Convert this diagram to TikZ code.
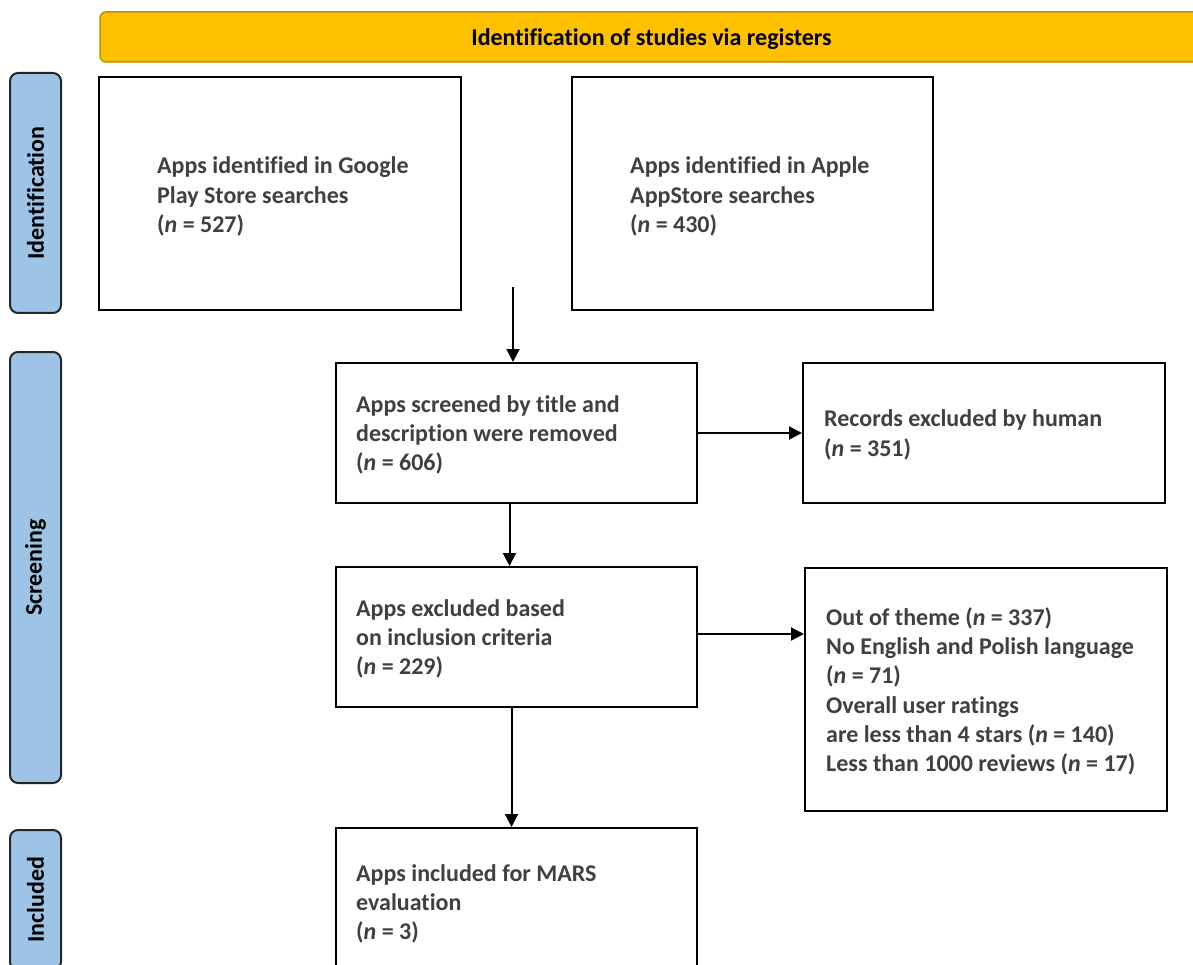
\documentclass[tikz,border=0pt]{standalone}
\usepackage{fontspec}
\setmainfont{Carlito}[Ligatures=NoCommon]
\usetikzlibrary{arrows.meta}
\definecolor{bannerfill}{HTML}{FFC000}
\definecolor{bannerdraw}{HTML}{BF9000}
\definecolor{sidefill}{HTML}{9DC3E6}
\definecolor{txtgray}{HTML}{404040}
\tikzset{
  boxnode/.style={draw=black, line width=2pt, fill=white, inner sep=0pt},
  txt/.style={anchor=west, align=left, inner sep=0pt, text=txtgray,
    font=\fontsize{24}{29.3}\selectfont\bfseries},
  sidebar/.style={draw=black!85, line width=2pt, fill=sidefill, rounded corners=8pt,
    rotate=90, inner sep=0pt, minimum height=51pt,
    font=\fontsize{24}{28}\selectfont\bfseries, text=black},
  banner/.style={draw=bannerdraw, line width=1.5pt, fill=bannerfill, rounded corners=6pt,
    inner sep=0pt, minimum width=1103pt, minimum height=50pt},
  bannertxt/.style={inner sep=0pt, font=\fontsize{24}{28}\selectfont\bfseries, text=black},
  flow/.style={line width=2pt, draw=black, -{Triangle[length=13pt,width=13pt]}},
}
\begin{document}
\begin{tikzpicture}[x=1pt,y=-1pt]
\useasboundingbox (0,0) rectangle (1193,965);
\clip (0,0) rectangle (1193,965);

% banner
\node[banner] (ban) at (651.5,37) {};
\node[bannertxt] (banT) at ([yshift=-2pt]ban.center) {Identification of studies via registers};

% side bars
\node[sidebar, minimum width=240pt] (sideI) at (35.5,193) {Identification};
\node[sidebar, minimum width=431pt] (sideS) at (35.5,567.5) {Screening};
\node[sidebar, minimum width=140pt] (sideN) at (35.5,900) {Included};

% boxes
\node[boxnode, minimum width=362pt, minimum height=233pt] (google) at (280,193.5) {};
\node[txt] (googleT) at ([xshift=59pt,yshift=-3pt]google.west) {Apps identified in Google\\Play Store searches\\(\textit{n} = 527)};

\node[boxnode, minimum width=361pt, minimum height=233pt] (apple) at (752.5,193.5) {};
\node[txt] (appleT) at ([xshift=59pt,yshift=-3pt]apple.west) {Apps identified in Apple\\AppStore searches\\(\textit{n} = 430)};

\node[boxnode, minimum width=361pt, minimum height=140pt] (screen) at (516.5,433) {};
\node[txt] (screenT) at ([xshift=21pt,yshift=-2pt]screen.west) {Apps screened by title and\\description were removed\\(\textit{n} = 606)};

\node[boxnode, minimum width=362pt, minimum height=140pt] (records) at (984,433) {};
\node[txt] (recordsT) at ([xshift=22pt,yshift=-2pt]records.west) {Records excluded by human\\(\textit{n} = 351)};

\node[boxnode, minimum width=361pt, minimum height=140pt] (excl) at (516.5,637) {};
\node[txt] (exclT) at ([xshift=21pt,yshift=-2pt]excl.west) {Apps excluded based\\on inclusion criteria\\(\textit{n} = 229)};

\node[boxnode, minimum width=362pt, minimum height=243pt] (out) at (986,689.5) {};
\node[txt] (outT) at ([xshift=22pt,yshift=-2pt]out.west) {Out of theme (\textit{n} = 337)\\No English and Polish language\\(\textit{n} = 71)\\Overall user ratings\\are less than 4 stars (\textit{n} = 140)\\Less than 1000 reviews (\textit{n} = 17)};

\node[boxnode, minimum width=361pt, minimum height=148pt] (incl) at (516.5,902) {};
\node[txt] (inclT) at ([xshift=21pt,yshift=-2pt]incl.west) {Apps included for MARS\\evaluation\\(\textit{n} = 3)};

% connectors
\coordinate (start) at (513,287);
\draw[flow] (start) -- (start |- screen.north);
\draw[flow] (screen.east) -- (records.west);
\draw[flow] ([xshift=-7pt]screen.south) -- ([xshift=-7pt]excl.north);
\draw[flow] ([yshift=3pt]excl.east) -- ([yshift=3pt]excl.east -| out.west);
\draw[flow] ([xshift=-5pt]excl.south) -- ([xshift=-5pt]incl.north);
\end{tikzpicture}
\end{document}
